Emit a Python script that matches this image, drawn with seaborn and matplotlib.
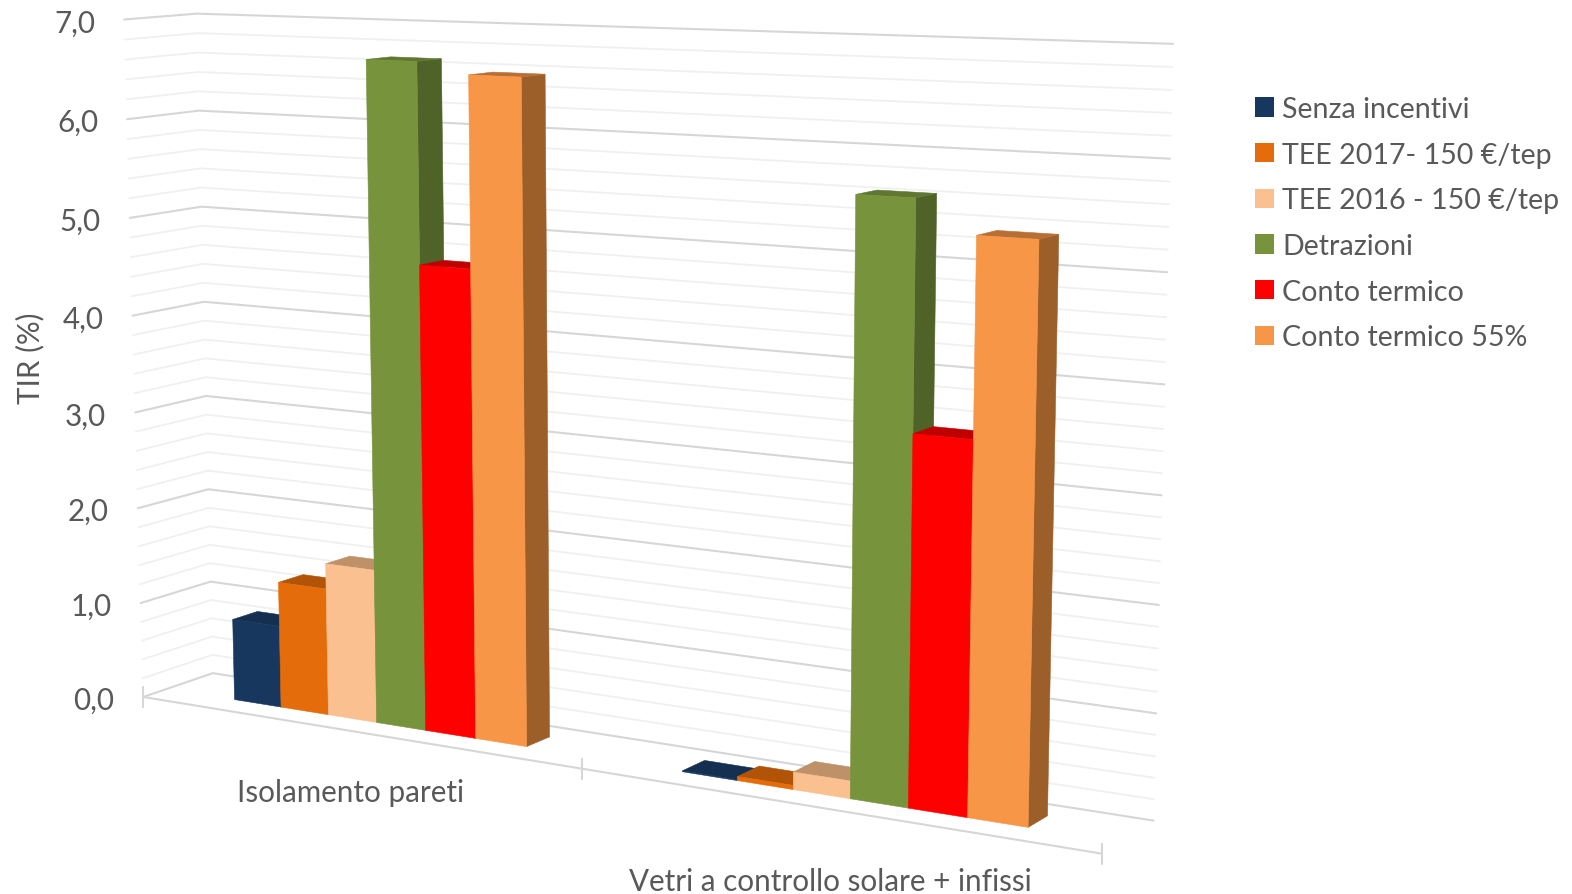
import numpy as np
import pandas as pd
import matplotlib
matplotlib.use("Agg")
import matplotlib.pyplot as plt
from matplotlib.patches import Polygon
from matplotlib.transforms import Transform
import seaborn as sns

# Chart values
categories = ["Isolamento pareti", "Vetri a controllo solare + infissi"]
scenarios = ["Senza incentivi", "TEE 2017- 150 €/tep", "TEE 2016 - 150 €/tep",
             "Detrazioni", "Conto termico", "Conto termico 55%"]
values_pareti = [0.85, 1.31, 1.57, 6.66, 4.68, 6.55]
values_vetri = [0.01, 0.04, 0.17, 5.62, 3.49, 5.32]
value_ticks = [0, 1, 2, 3, 4, 5, 6, 7]
minor_step = 0.2

front_colors = ["#17375E", "#E46C0A", "#FAC090", "#77933C", "#FF0000", "#F79646"]
top_colors = ["#142F50", "#B25408", "#BE9168", "#5F7730", "#C00000", "#B86F35"]
side_colors = ["#10263F", "#98480A", "#A8815F", "#4F6228", "#AA0000", "#9C5F2A"]
text_color = "#595959"

WIDTH, HEIGHT = 1572, 895
BAR_FRONT, BAR_BACK = 0.34, 0.70   # depth span of the columns inside the box

# Camera calibration: box corners (category, value, depth) and where they land on the canvas
box_points = np.array([[0, 0, 0], [0, 7, 0], [0, 0, 1], [0, 7, 1],
                       [2, 0, 1], [2, 7, 1], [2, 0, 0], [1, 0, 0]], float)
box_canvas = np.array([[143, 698], [125, 20], [213, 675], [196, 15],
                       [1154, 820], [1173, 45], [1101, 857], [582, 768]], float)


def fit_camera(points, canvas):
    rows, rhs = [], []
    for (X, Y, Z), (x, y) in zip(points, canvas):
        rows.append([X, Y, Z, 1, 0, 0, 0, 0, -x * X, -x * Y, -x * Z])
        rows.append([0, 0, 0, 0, X, Y, Z, 1, -y * X, -y * Y, -y * Z])
        rhs += [x, y]
    sol = np.linalg.lstsq(np.array(rows), np.array(rhs), rcond=None)[0]
    return np.append(sol, 1.0).reshape(3, 4)


CAMERA = fit_camera(box_points, box_canvas)


def project(u, v, w):
    u, v, w = np.broadcast_arrays(np.asarray(u, float), np.asarray(v, float), np.asarray(w, float))
    hom = np.stack([u, v, w, np.ones_like(u)], axis=-1) @ CAMERA.T
    return hom[..., :2] / hom[..., 2:3]


class DepthPlane(Transform):
    """Maps (categorical x, value) on a plane of constant depth to canvas pixels."""
    input_dims = 2
    output_dims = 2
    is_separable = False
    has_inverse = False

    def __init__(self, plane_depth):
        super().__init__()
        self.plane_depth = plane_depth

    def transform_non_affine(self, values):
        values = np.asarray(values, float)
        return project(values[:, 0] + 0.5, values[:, 1], self.plane_depth)


sns.set_theme(style="white")
plt.rcParams["font.family"] = ["Lato", "DejaVu Sans"]

df = pd.DataFrame({
    "Intervento": np.repeat(categories, len(scenarios)),
    "Scenario": scenarios * len(categories),
    "TIR": values_pareti + values_vetri,
})

fig = plt.figure(figsize=(WIDTH / 100, HEIGHT / 100), dpi=100)
ax = fig.add_axes([0, 0, 1, 1])
sns.barplot(data=df, x="Intervento", y="TIR", hue="Scenario", hue_order=scenarios,
            palette=front_colors, saturation=1, width=0.67, gap=0, errorbar=None,
            linewidth=0, ax=ax, legend=True)
ax.set_xlim(0, WIDTH)
ax.set_ylim(HEIGHT, 0)
ax.set_axis_off()
front_plane = DepthPlane(BAR_FRONT) + ax.transData

# Walls: gridlines on the back wall and left wall, major lines darker
n_minor = int(round(max(value_ticks) / minor_step))
for k in range(n_minor + 1):
    v = k * minor_step
    major = k % 5 == 0
    color, lw = ("#D6D6D6", 1.5) if major else ("#F0F0F0", 1.3)
    pts = project([0, 0, 2], [v, v, v], [0, 1, 1])
    ax.plot(pts[:, 0], pts[:, 1], color=color, lw=lw, zorder=1, solid_joinstyle="round")

# Floor front edge with its category ticks
edge = project([0, 2], [0, 0], [0, 0])
ax.plot(edge[:, 0], edge[:, 1], color="#D6D6D6", lw=1.5, zorder=1)
for u in range(3):
    x, y = project(u, 0, 0)
    ax.plot([x, x], [y - 10, y + 10], color="#D6D6D6", lw=1.5, zorder=1)

# Columns: the seaborn rectangles become the front faces, sides and tops are added
for i, container in enumerate(ax.containers):
    for bar in container:
        x0, x1, h = bar.get_x(), bar.get_x() + bar.get_width(), bar.get_height()
        u0, u1 = x0 + 0.5, x1 + 0.5
        bar.set_transform(front_plane)
        bar.set_clip_on(False)
        bar.set_edgecolor(front_colors[i])
        bar.set_linewidth(0.4)
        bar.set_zorder(2 + i + 0.2)
        side = project([u1, u1, u1, u1], [0, h, h, 0], [BAR_FRONT, BAR_FRONT, BAR_BACK, BAR_BACK])
        top = project([u0, u1, u1, u0], [h, h, h, h], [BAR_FRONT, BAR_FRONT, BAR_BACK, BAR_BACK])
        ax.add_patch(Polygon(side, closed=True, fc=side_colors[i], ec=side_colors[i], lw=0.4, zorder=2 + i))
        ax.add_patch(Polygon(top, closed=True, fc=top_colors[i], ec=top_colors[i], lw=0.4, zorder=2 + i + 0.1))

# Value labels follow the front-left edge of the box
for v in value_ticks:
    x, y = project(0, v, 0)
    ax.text(x - 29, y + 3, f"{v:.1f}".replace(".", ","), ha="right", va="center",
            fontsize=21.3, color=text_color)
ax.text(30, 358, "TIR (%)", rotation=90, ha="center", va="center", fontsize=21.3, color=text_color)

# Category labels below the floor edge
label_offsets = [(-3, 61), (0, 72)]
for j, (name, (dx, dy)) in enumerate(zip(categories, label_offsets)):
    x, y = project(j + 0.5, 0, 0)
    ax.text(x + dx, y + dy, name, ha="center", va="center", fontsize=21.3, color=text_color)

sns.move_legend(ax, "upper left", bbox_to_anchor=(1255 / WIDTH, 1 - 97 / HEIGHT), title=None,
                frameon=False, fontsize=20.6, labelcolor=text_color, borderpad=0, borderaxespad=0,
                handlelength=0.67, handleheight=0.67, handletextpad=0.28, labelspacing=0.688)

fig.savefig("out.png", dpi=100, facecolor="white")
